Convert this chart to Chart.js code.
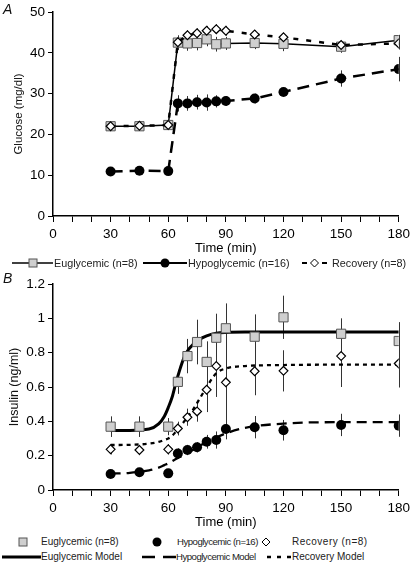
<!DOCTYPE html>
<html>
<head>
<meta charset="utf-8">
<script src="https://cdn.jsdelivr.net/npm/chart.js@4.4.1/dist/chart.umd.min.js"></script>
<style>
  body { margin: 0; background: #fff; width: 414px; height: 564px; position: relative; overflow: hidden;
         font-family: "Liberation Sans", Arial, sans-serif; color: #222; }
  canvas { position: absolute; left: 0; }
  #chartA { top: 0; }
  #chartB { top: 272px; }
  .panel { position: absolute; left: 3px; font-size: 14px; font-style: italic; color: #111; line-height: 14px; }
  .leg { position: absolute; font-size: 10.8px; line-height: 12px; white-space: nowrap; }
  .legB { font-size: 10px; }
  .tight { font-size: 9.6px; letter-spacing: -0.5px; }
  .loose { letter-spacing: 0.5px; }
  svg { position: absolute; overflow: visible; }
</style>
</head>
<body>
<canvas id="chartA" width="414" height="258"></canvas>
<canvas id="chartB" width="414" height="260"></canvas>
<div class="panel" style="top:2px">A</div>
<div class="panel" style="top:271px">B</div>

<!-- legend A -->
<svg style="left:12px;top:257px" width="41" height="12">
  <line x1="0" y1="6" x2="41" y2="6" stroke="#000" stroke-width="1.5"/>
  <rect x="17" y="2" width="8" height="8" fill="#cfcfcf" stroke="#555" stroke-width="1"/>
</svg>
<div class="leg" style="left:54px;top:257px">Euglycemic (n=8)</div>
<svg style="left:143px;top:257px" width="44" height="12">
  <line x1="0" y1="6" x2="44" y2="6" stroke="#000" stroke-width="2"/>
  <circle cx="22" cy="6" r="4.5" fill="#000"/>
</svg>
<div class="leg" style="left:188px;top:257px">Hypoglycemic (n=16)</div>
<svg style="left:302px;top:257px" width="25" height="12">
  <line x1="0" y1="6" x2="5" y2="6" stroke="#000" stroke-width="2"/>
  <line x1="20" y1="6" x2="25" y2="6" stroke="#000" stroke-width="2"/>
  <polygon points="12.5,2 16.5,6 12.5,10 8.5,6" fill="#fff" stroke="#000" stroke-width="1"/>
</svg>
<div class="leg" style="left:332px;top:257px">Recovery (n=8)</div>

<!-- legend B -->
<svg style="left:18px;top:536px" width="10" height="12">
  <rect x="1" y="2" width="8" height="8" fill="#cfcfcf" stroke="#555" stroke-width="1"/>
</svg>
<div class="leg legB" style="left:41px;top:536px">Euglycemic (n=8)</div>
<svg style="left:151px;top:536px" width="12" height="12">
  <circle cx="6" cy="6" r="4.5" fill="#000"/>
</svg>
<div class="leg legB tight" style="left:177px;top:536px">Hypoglycemic (n=16)</div>
<svg style="left:261px;top:536px" width="10" height="12">
  <polygon points="5,2 9,6 5,10 1,6" fill="#fff" stroke="#000" stroke-width="1"/>
</svg>
<div class="leg legB loose" style="left:292px;top:536px">Recovery (n=8)</div>

<svg style="left:2px;top:551px" width="39" height="12">
  <line x1="0" y1="6" x2="39" y2="6" stroke="#000" stroke-width="3"/>
</svg>
<div class="leg legB" style="left:41px;top:551px">Euglycemic Model</div>
<svg style="left:142px;top:551px" width="34" height="12">
  <line x1="0" y1="6" x2="34" y2="6" stroke="#000" stroke-width="2.5" stroke-dasharray="13 8"/>
</svg>
<div class="leg legB tight" style="left:176px;top:551px">Hypoglycemic Model</div>
<svg style="left:267px;top:551px" width="24" height="12">
  <line x1="0" y1="6" x2="24" y2="6" stroke="#000" stroke-width="2.5" stroke-dasharray="4 6"/>
</svg>
<div class="leg legB" style="left:292px;top:551px">Recovery Model</div>

<script>
const FONT = '"Liberation Sans", Arial, sans-serif';

// sampling times (min)
const times = [30, 45, 60, 65, 70, 75, 80, 85, 90, 105, 120, 150, 180];

// Panel A: glucose (mg/dl), mean and SE
const glucoseEu = [22.0, 22.0, 22.3, 42.5, 42.3, 42.4, 43.3, 42.1, 42.3, 42.4, 42.2, 41.5, 43.1];
const glucoseEuErr = [0.7, 0.7, 0.7, 1.8, 1.8, 1.8, 1.7, 1.8, 1.6, 1.5, 1.8, 1.5, 1.3];
const glucoseHypo = [10.9, 11.1, 11.0, 27.6, 27.6, 27.9, 27.8, 28.1, 28.2, 28.8, 30.4, 33.7, 36.0];
const glucoseHypoErr = [0.5, 0.5, 0.5, 2.0, 1.8, 1.8, 2.0, 1.5, 1.2, 1.2, 1.0, 2.0, 3.0];
const glucoseRec = [22.0, 22.1, 22.3, 42.6, 44.3, 44.8, 45.4, 45.8, 45.4, 44.5, 43.8, 41.9, 42.3];
const glucoseRecErr = [0.6, 0.6, 0.6, 1.2, 1.2, 1.2, 1.2, 1.2, 1.2, 1.0, 1.0, 1.0, 1.5];

// Panel B: insulin (ng/ml), mean and SE
const insulinEu = [0.369, 0.369, 0.369, 0.63, 0.78, 0.862, 0.746, 0.887, 0.942, 0.893, 1.006, 0.91, 0.868];
const insulinEuErr = [0.06, 0.06, 0.05, 0.07, 0.1, 0.13, 0.12, 0.14, 0.145, 0.13, 0.126, 0.09, 0.11];
const insulinHypo = [0.093, 0.103, 0.097, 0.213, 0.233, 0.249, 0.281, 0.291, 0.355, 0.366, 0.348, 0.379, 0.375];
const insulinHypoErr = [0.02, 0.02, 0.02, 0.03, 0.03, 0.03, 0.04, 0.05, 0.06, 0.065, 0.06, 0.065, 0.065];
const insulinRec = [0.237, 0.233, 0.237, 0.358, 0.424, 0.458, 0.584, 0.722, 0.627, 0.692, 0.694, 0.78, 0.737];
const insulinRecErr = [0.03, 0.03, 0.03, 0.04, 0.05, 0.06, 0.13, 0.18, 0.23, 0.14, 0.12, 0.18, 0.14];

// model curves
const modelTimes = [30, 40, 50, 55, 58, 60, 62, 64, 66, 68, 70, 73, 76, 80, 85, 90, 100, 120, 150, 180];
const modelEu = [0.347, 0.347, 0.355, 0.385, 0.43, 0.48, 0.54, 0.625, 0.70, 0.765, 0.81, 0.848, 0.875, 0.898, 0.913, 0.918, 0.92, 0.92, 0.92, 0.92];
const modelHypo = [0.095, 0.1, 0.115, 0.13, 0.145, 0.155, 0.168, 0.18, 0.192, 0.204, 0.216, 0.235, 0.255, 0.28, 0.306, 0.33, 0.362, 0.387, 0.395, 0.395];
const modelRec = [0.262, 0.263, 0.27, 0.28, 0.292, 0.30, 0.315, 0.34, 0.365, 0.395, 0.425, 0.47, 0.525, 0.60, 0.68, 0.708, 0.722, 0.728, 0.73, 0.73];

function pts(xs, ys) {
    return xs.map((t, i) => ({x: t, y: ys[i]}));
}

// vertical SE bars drawn under the markers
const errorBars = {
    id: 'errorBars',
    beforeDatasetsDraw(chart) {
        let ctx = chart.ctx;
        let x = chart.scales.x, y = chart.scales.y;
        ctx.save();
        ctx.strokeStyle = '#333';
        ctx.lineWidth = 1;
        chart.data.datasets.forEach(ds => {
            if (!ds.errors) return;
            ds.data.forEach((p, i) => {
                let px = Math.round(x.getPixelForValue(p.x)) + 0.5;
                ctx.beginPath();
                ctx.moveTo(px, y.getPixelForValue(p.y - ds.errors[i]));
                ctx.lineTo(px, y.getPixelForValue(p.y + ds.errors[i]));
                ctx.stroke();
            });
        });
        ctx.restore();
    }
};

function xScale() {
    return {
        type: 'linear', min: 0, max: 180,
        ticks: {
            stepSize: 10, autoSkip: false, maxRotation: 0, padding: 4, color: '#000',
            font: {family: FONT, size: 13.5},
            callback: v => v % 30 === 0 ? v : ''
        },
        grid: {drawOnChartArea: false, drawTicks: true, tickLength: 6, color: '#000', lineWidth: 1},
        border: {color: '#000', width: 1.5},
        title: {display: true, text: 'Time (min)', color: '#000', font: {family: FONT, size: 13}, padding: {top: 0, bottom: 2}},
        afterFit: s => { s.height = 42; }
    };
}

function yScale(max, step, label, titleSize, titlePad) {
    return {
        min: 0, max: max,
        ticks: {stepSize: step, padding: 3, color: '#000', font: {family: FONT, size: 13.5},
            callback: v => String(+v.toFixed(1))},
        grid: {drawOnChartArea: false, drawTicks: true, tickLength: 5, color: '#000', lineWidth: 1},
        border: {color: '#000', width: 1.5},
        title: {display: true, text: label, color: '#111', font: {family: FONT, size: titleSize}, padding: {top: titlePad, bottom: 0}},
        afterFit: s => { s.width = 53; }
    };
}

const baseOptions = (yOpts) => ({
    responsive: false,
    animation: false,
    layout: {padding: {top: 12, right: 14, left: 0, bottom: 0}},
    plugins: {legend: {display: false}, tooltip: {enabled: false}},
    scales: {x: xScale(), y: yOpts}
});

const squareStyle = {pointStyle: 'rect', pointRadius: 6.5, pointBackgroundColor: '#cfcfcf', pointBorderColor: '#555', pointBorderWidth: 1};
const circleStyle = {pointStyle: 'circle', pointRadius: 5, pointBackgroundColor: '#000', pointBorderColor: '#000', pointBorderWidth: 0};
const diamondStyle = {pointStyle: 'rectRot', pointRadius: 4.4, pointBackgroundColor: '#fff', pointBorderColor: '#000', pointBorderWidth: 1.2};

new Chart(document.getElementById('chartA'), {
    type: 'line',
    data: {
        datasets: [
            Object.assign({data: pts(times, glucoseEu), errors: glucoseEuErr, borderColor: '#000', borderWidth: 1.5, tension: 0, order: 3}, squareStyle),
            Object.assign({data: pts(times, glucoseHypo), errors: glucoseHypoErr, borderColor: '#000', borderWidth: 2.5, borderDash: [12, 7], tension: 0, order: 2}, circleStyle),
            Object.assign({data: pts(times, glucoseRec), errors: glucoseRecErr, borderColor: '#000', borderWidth: 2.5, borderDash: [5, 8], tension: 0, order: 1}, diamondStyle)
        ]
    },
    options: baseOptions(yScale(50, 10, 'Glucose (mg/dl)', 11.5, 12)),
    plugins: [errorBars]
});

new Chart(document.getElementById('chartB'), {
    type: 'line',
    data: {
        datasets: [
            {data: pts(modelTimes, modelEu), borderColor: '#000', borderWidth: 3, pointRadius: 0, cubicInterpolationMode: 'monotone', order: 6},
            {data: pts(modelTimes, modelHypo), borderColor: '#000', borderWidth: 2.3, borderDash: [10, 6], pointRadius: 0, cubicInterpolationMode: 'monotone', order: 5},
            {data: pts(modelTimes, modelRec), borderColor: '#000', borderWidth: 2.3, borderDash: [4, 4], pointRadius: 0, cubicInterpolationMode: 'monotone', order: 4},
            Object.assign({data: pts(times, insulinEu), errors: insulinEuErr, showLine: false, order: 3}, squareStyle),
            Object.assign({data: pts(times, insulinHypo), errors: insulinHypoErr, showLine: false, order: 2}, circleStyle),
            Object.assign({data: pts(times, insulinRec), errors: insulinRecErr, showLine: false, order: 1}, diamondStyle)
        ]
    },
    options: baseOptions(yScale(1.2, 0.2, 'Insulin (ng/ml)', 12.5, 7)),
    plugins: [errorBars]
});
</script>
</body>
</html>
